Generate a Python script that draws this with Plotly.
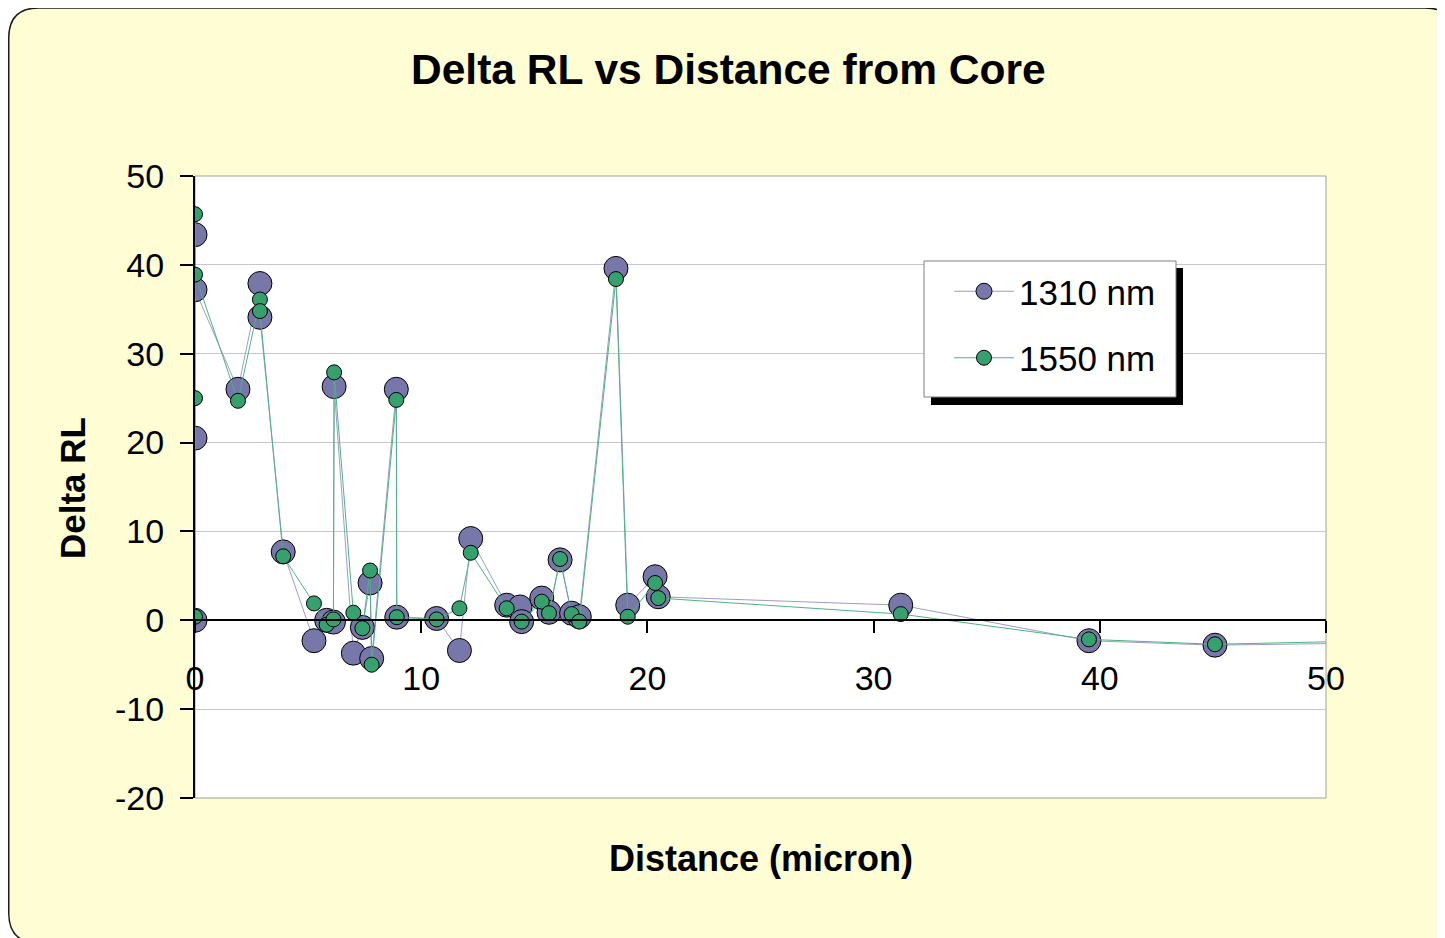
import plotly.graph_objects as go

# ---------------- data ----------------
distance = [0, 0, 0, 0, 1.9, 2.87, 2.87, 3.9, 5.26, 5.82, 6.12, 6.15, 7.0, 7.4, 7.74, 7.81,
            8.9, 8.92, 10.68, 11.69, 12.19, 13.78, 14.37, 14.44, 15.33, 15.65, 16.14, 16.65,
            16.99, 18.61, 19.13, 20.34, 20.48, 31.2, 39.52, 45.09, 55.0]
rl_1310 = [0.0, 20.5, 43.4, 37.2, 26.0, 37.9, 34.1, 7.7, -2.3, 0.0, -0.2, 26.3, -3.7, -0.8, 4.2, -4.3,
           26.0, 0.35, 0.2, -3.4, 9.2, 1.7, 1.5, -0.15, 2.5, 0.9, 6.8, 0.8,
           0.4, 39.6, 1.7, 4.9, 2.65, 1.7, -2.3, -2.8, -2.45]
rl_1550 = [0.4, 25.0, 45.7, 38.9, 24.7, 36.1, 34.8, 7.2, 1.9, -0.5, 0.1, 27.9, 0.85, -0.9, 5.6, -5.0,
           24.8, 0.35, 0.1, 1.35, 7.6, 1.35, None, -0.15, 2.1, 0.8, 6.9, 0.7,
           -0.15, 38.4, 0.4, 4.2, 2.5, 0.7, -2.15, -2.7, -2.15]
series_names = ["1310 nm", "1550 nm"]
x_ticks = [0, 10, 20, 30, 40, 50]
y_ticks = [-20, -10, 0, 10, 20, 30, 40, 50]
y_ticktext = ["-20", "-10", "0", "10", "20", "30", "40", "50"]

# ---------------- layout geometry ----------------
# page has an 8px body margin, so the figure is drawn 8px smaller and
# all target positions (given in window pixels) are shifted by 8px.
OFF = 8
W, H = 1445 - OFF, 938 - OFF
L, R, T, B = 195, 1326, 176, 798          # plot area in window pixels
PW, PH = R - L, B - T


def px(xp):
    return (xp - L) / PW


def py(yp):
    return (B - yp) / PH


FONT = "Arial, 'Liberation Sans', sans-serif"

fig = go.Figure()
fig.add_trace(go.Scatter(
    x=distance, y=rl_1310, name=series_names[0], mode="lines+markers",
    line=dict(color="#9C9CCB", width=1),
    marker=dict(size=24, color="#7777AA", line=dict(color="black", width=1)),
    connectgaps=True, legendgroup="a"))
fig.add_trace(go.Scatter(
    x=distance, y=rl_1550, name=series_names[1], mode="lines+markers",
    line=dict(color="#4DB383", width=1),
    marker=dict(size=15, color="#36A06E", line=dict(color="black", width=1)),
    connectgaps=True, legendgroup="b"))

# rounded background frame
x0, y0, x1, y1, r = 8.75, 8.0, 1455, 943, 30
path = (f"M {px(x0 + r)},{py(y0)} L {px(x1 - r)},{py(y0)} Q {px(x1)},{py(y0)} {px(x1)},{py(y0 + r)} "
        f"L {px(x1)},{py(y1 - r)} Q {px(x1)},{py(y1)} {px(x1 - r)},{py(y1)} "
        f"L {px(x0 + r)},{py(y1)} Q {px(x0)},{py(y1)} {px(x0)},{py(y1 - r)} "
        f"L {px(x0)},{py(y0 + r)} Q {px(x0)},{py(y0)} {px(x0 + r)},{py(y0)} Z")
shapes = [
    dict(type="path", path=path, xref="paper", yref="paper", fillcolor="#FFFDD3",
         line=dict(color="#1a1a1a", width=1.5), layer="below"),
    dict(type="rect", xref="paper", yref="paper", x0=0, x1=1, y0=0, y1=1,
         fillcolor="white", line=dict(color="#A0A0A0", width=1), layer="below"),
    # legend shadow + box
    dict(type="rect", xref="paper", yref="paper", x0=px(931), x1=px(1183), y0=py(405), y1=py(268),
         fillcolor="black", line=dict(width=0), layer="above"),
    dict(type="rect", xref="paper", yref="paper", x0=px(924), x1=px(1176), y0=py(397), y1=py(261),
         fillcolor="white", line=dict(color="#808080", width=1), layer="above"),
]

annotations = [
    dict(text="<b>Delta RL vs Distance from Core</b>", xref="paper", yref="paper",
         x=px(728), y=py(70), showarrow=False, font=dict(size=42.5, color="black", family=FONT),
         xanchor="center", yanchor="middle"),
    dict(text="<b>Distance (micron)</b>", xref="paper", yref="paper",
         x=px(761), y=py(858), showarrow=False, font=dict(size=36, color="black", family=FONT),
         xanchor="center", yanchor="middle"),
    dict(text="<b>Delta RL</b>", xref="paper", yref="paper", textangle=-90,
         x=px(72), y=py(488), showarrow=False, font=dict(size=35, color="black", family=FONT),
         xanchor="center", yanchor="middle"),
]

fig.update_layout(
    template="none",
    width=W, height=H,
    margin=dict(l=L - OFF, r=W - (R - OFF), t=T - OFF, b=H - (B - OFF), pad=0),
    paper_bgcolor="white",
    plot_bgcolor="rgba(0,0,0,0)",
    font=dict(family=FONT, size=34, color="black"),
    shapes=shapes,
    annotations=annotations,
    showlegend=True,
    legend=dict(x=px(949), y=py(262), xanchor="left", yanchor="top",
                bgcolor="rgba(0,0,0,0)", borderwidth=0,
                font=dict(size=35, family=FONT, color="black"),
                traceorder="grouped", tracegroupgap=18, itemwidth=60),
    xaxis=dict(range=[0, 50], tickvals=x_ticks, ticks="outside", ticklen=12, tickwidth=2,
               tickcolor="black", showline=True, linecolor="black", linewidth=2,
               showgrid=False, zeroline=False, anchor="free", position=20 / 70,
               ticklabelstandoff=16, tickfont=dict(size=34)),
    yaxis=dict(range=[-20, 50], tickvals=y_ticks, ticktext=y_ticktext, ticks="outside",
               ticklen=13, tickwidth=2,
               tickcolor="black", showline=True, linecolor="black", linewidth=2,
               showgrid=True, gridcolor="#C8C8C8", gridwidth=1, zeroline=False,
               ticklabelstandoff=9, tickfont=dict(size=34)),
)

fig.write_html("out.html")
